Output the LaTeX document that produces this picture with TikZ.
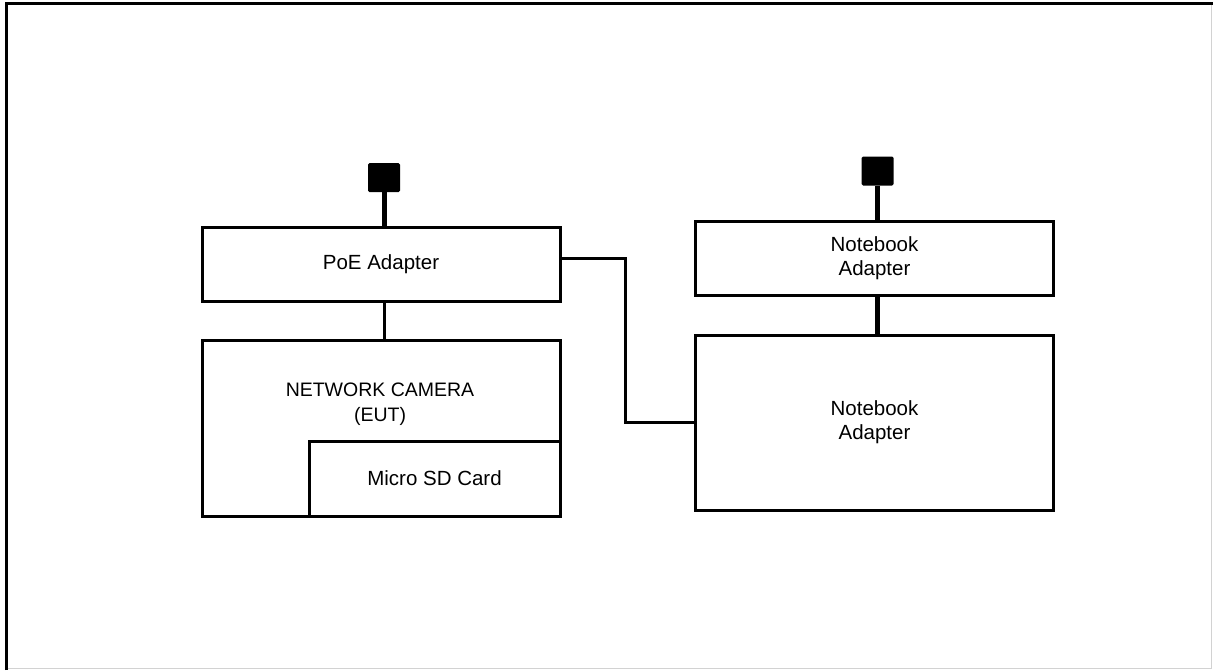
\documentclass[tikz,border=0pt]{standalone}
\usepackage{fontspec}
\setmainfont{Liberation Sans}
\usetikzlibrary{positioning}

\begin{document}
\begin{tikzpicture}[x=1pt,y=-1pt,node distance=36pt,line join=miter]
  \tikzstyle{box}=[draw,rectangle,line width=3pt,minimum width=358pt,
                   align=center,inner sep=0pt,font=\fontsize{20.5}{24}\selectfont]
  \tikzstyle{plug}=[fill=black,rectangle,rounded corners=1.5pt,
                    minimum width=32pt,minimum height=29pt,inner sep=0pt]
  \tikzstyle{cord}=[line width=5pt]
  \tikzstyle{wire}=[line width=3pt]

  \useasboundingbox (0,0) rectangle (1213,670);
  \draw[gray!35,line width=1pt] (1211.5,3) -- (1211.5,668) -- (6,668);
  \draw[line width=3pt] (6.5,670) -- (6.5,3.5) -- (1213,3.5);

  \node[box,minimum height=74pt]                 (poe) at (381,264) {PoE Adapter};
  \node[box,minimum height=176pt,below=36pt of poe] (cam) {};
  \node[box,minimum width=251pt,minimum height=75pt,anchor=south east]
                                                 (sd)  at (cam.south east) {Micro SD Card};
  \node[font=\fontsize{19.5}{25}\selectfont,align=center]
                                                 (camtext) at (380,404) {NETWORK CAMERA\\(EUT)};
  \node[plug]                                    (plugL) at (384,177.5) {};

  \node[box,minimum height=74pt]                 (nb1) at (874.5,258) {Notebook\\Adapter};
  \node[box,minimum height=175pt,below=37pt of nb1] (nb2) {Notebook\\Adapter};
  \node[plug]                                    (plugR) at (877.5,171) {};

  \draw[cord] (plugL) -- (plugL |- poe.north);
  \draw[wire] (poe.south -| plugL) -- (cam.north -| plugL);
  \draw[cord] (plugR) -- (plugR |- nb1.north);
  \draw[cord] (nb1.south -| plugR) -- (nb2.north -| plugR);
  \draw[wire] ([yshift=6pt]poe.east) -- ++(64,0) |- (nb2.west);
\end{tikzpicture}
\end{document}
